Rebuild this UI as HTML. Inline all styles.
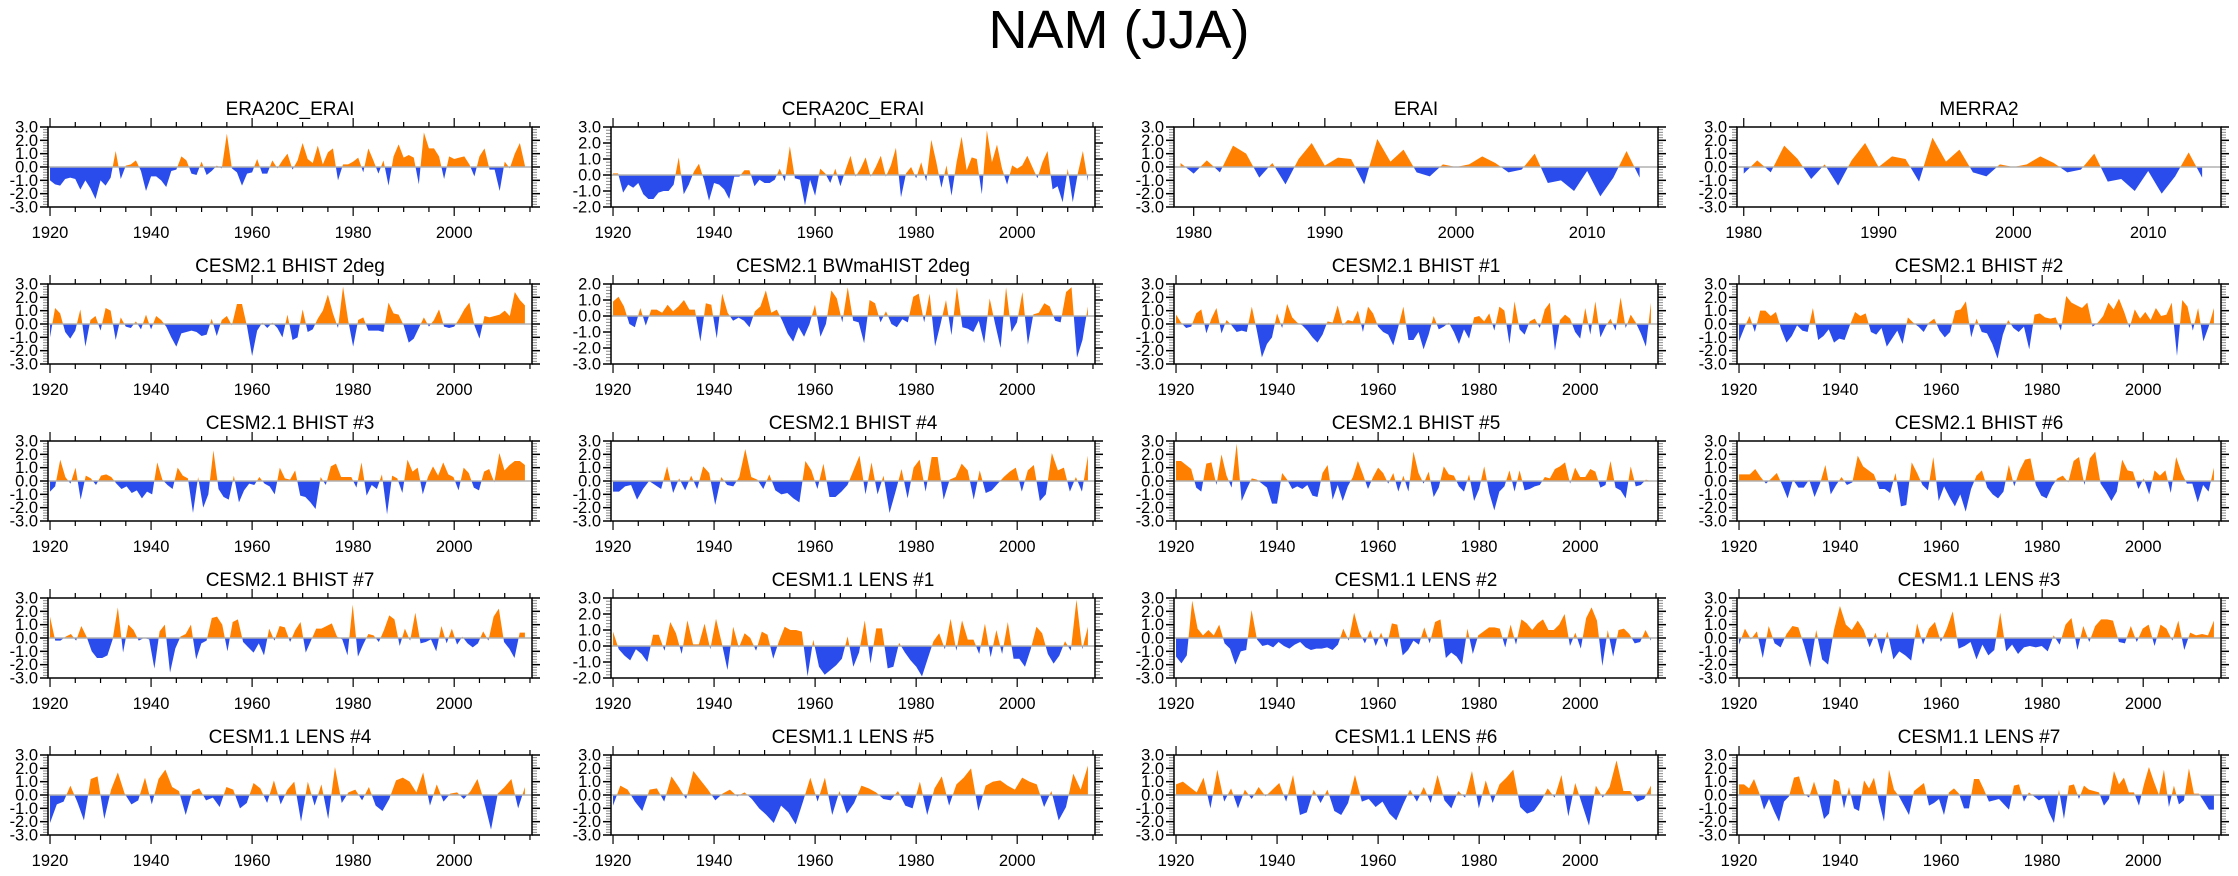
<!DOCTYPE html>
<html><head><meta charset="utf-8"><style>
body{margin:0;background:#fff;}
svg{display:block;font-family:"Liberation Sans",Arial,sans-serif;}
</style></head><body>
<svg id="chart" width="2238" height="876" viewBox="0 0 2238 876">
<text x="1119" y="48" font-size="54" text-anchor="middle">NAM (JJA)</text>
</svg>
<script>
const titles = ["ERA20C_ERAI","CERA20C_ERAI","ERAI","MERRA2",
"CESM2.1 BHIST 2deg","CESM2.1 BWmaHIST 2deg","CESM2.1 BHIST #1","CESM2.1 BHIST #2",
"CESM2.1 BHIST #3","CESM2.1 BHIST #4","CESM2.1 BHIST #5","CESM2.1 BHIST #6",
"CESM2.1 BHIST #7","CESM1.1 LENS #1","CESM1.1 LENS #2","CESM1.1 LENS #3",
"CESM1.1 LENS #4","CESM1.1 LENS #5","CESM1.1 LENS #6","CESM1.1 LENS #7"];
const startYears = [1920,1920,1979,1980,1920,1920,1920,1920,1920,1920,1920,1920,1920,1920,1920,1920,1920,1920,1920,1920];
const yMins = [-3,-2,-3,-3,-3,-3,-3,-3,-3,-3,-3,-3,-3,-2,-3,-3,-3,-3,-3,-3];
const yMaxs = [3,3,3,3,3,2,3,3,3,3,3,3,3,3,3,3,3,3,3,3];
const era20c = [-1.0,-1.3,-1.4,-0.9,-0.8,-0.9,-1.7,-1.0,-1.6,-2.4,-1.0,-1.4,-0.8,1.2,-0.9,0.1,0.2,0.5,-0.3,-1.8,-0.7,-0.7,-1.0,-1.5,-0.3,-0.2,0.8,0.5,-0.5,-0.6,0.4,-0.6,-0.3,0.1,-0.1,2.5,-0.1,-0.4,-1.4,-0.5,-0.4,0.6,-0.5,-0.5,0.5,-0.1,0.5,1.0,-0.2,0.5,1.8,0.6,0.3,1.6,0.2,1.1,1.4,-1.0,0.2,0.2,0.4,0.7,-0.4,1.4,0.5,-0.5,0.5,-1.4,0.8,1.7,0.7,0.9,0.7,-1.3,2.6,1.4,1.4,0.8,-0.9,0.8,0.6,0.7,0.8,0.2,-0.7,0.8,1.4,-0.2,-0.2,-1.8,0.4,-0.1,1.0,1.8,0.1];
const cera20c = [0.1,0.1,-1.1,-0.6,-0.8,-0.5,-1.2,-1.5,-1.5,-1.1,-1.0,-1.0,-0.6,1.1,-1.2,-0.6,0.2,0.7,-0.3,-1.6,-0.5,-0.6,-0.9,-1.5,-0.1,-0.1,0.3,0.3,-0.7,-0.3,-0.5,-0.5,-0.3,0.4,-0.4,1.8,-0.2,-0.3,-1.9,-0.3,-1.3,0.4,0.1,-0.5,0.4,-0.7,0.3,1.2,-0.1,0.4,1.1,-0.1,0.5,1.2,-0.1,0.6,1.7,-1.4,0.1,0.5,-0.2,0.8,-0.4,2.2,0.8,-0.8,0.6,-1.3,0.8,2.4,0.3,1.1,1.0,-1.2,2.8,0.8,1.9,0.4,-0.6,0.6,0.4,0.6,1.2,0.5,-0.2,0.8,1.5,-0.9,-0.7,-1.7,0.4,-1.7,0.1,1.5,-0.4];
const erai = [0.3,-0.5,0.5,-0.4,1.6,1.0,-0.8,0.3,-1.3,0.6,1.8,0.1,0.7,0.6,-1.3,2.1,0.4,1.3,-0.4,-0.7,0.2,0.0,0.2,0.8,0.3,-0.4,-0.2,1.0,-1.2,-1.0,-1.8,-0.3,-2.2,-0.8,1.2,-0.8];
const merra2 = [-0.5,0.5,-0.4,1.6,0.6,-0.9,0.2,-1.4,0.5,1.8,0.0,0.8,0.6,-1.1,2.2,0.4,1.3,-0.4,-0.7,0.2,0.0,0.2,0.8,0.3,-0.4,-0.2,1.0,-1.1,-0.9,-1.8,-0.3,-2.0,-0.7,1.1,-0.8];
const bhist2deg = [-1.0,1.2,0.8,-0.6,-1.1,-0.5,1.1,-1.7,0.3,0.6,-0.5,1.2,1.0,-1.2,0.5,-0.2,-0.3,0.2,-0.4,0.7,-0.4,0.6,0.3,-0.2,-1.0,-1.7,-0.7,-0.6,-0.5,-0.6,-0.9,-0.8,0.4,-0.9,0.3,0.6,-0.1,1.5,1.5,-0.2,-2.4,-0.5,0.1,-0.3,0.1,-0.3,-1.0,0.7,-1.2,-1.0,1.1,-0.6,-0.4,0.4,1.0,2.2,0.8,-0.3,2.8,0.3,-1.7,0.3,0.5,-0.5,-0.5,-0.5,-0.6,1.6,0.8,0.7,-0.1,-1.4,-1.1,-0.3,0.5,-0.2,0.3,1.1,-0.2,-0.3,-0.2,0.4,1.1,1.6,-0.1,-1.1,0.6,0.5,0.6,0.7,1.0,0.6,2.4,1.8,1.4];
const bwmahist = [0.9,1.2,0.6,-0.5,-0.7,0.5,-0.6,0.4,0.4,0.2,0.7,0.3,0.6,1.0,0.4,0.4,-1.6,0.8,0.7,-1.4,1.4,0.2,-0.3,-0.1,-0.3,-0.7,0.3,0.6,1.6,0.2,0.4,-0.3,-1.1,-1.6,-0.7,-1.3,-0.5,0.7,-1.3,-0.5,1.6,1.1,-0.4,1.8,-0.3,-0.4,-1.7,1.0,0.8,-0.4,0.3,-0.5,-0.7,-0.2,-0.4,1.2,1.4,-0.4,1.4,-1.9,-0.5,1.0,-1.2,1.8,-0.7,-0.8,-1.0,-0.3,-1.7,1.1,-0.5,-2.0,1.8,-1.0,-0.4,1.5,-1.8,0.1,0.2,0.8,0.6,-0.3,-0.4,1.5,1.8,-2.6,-1.5,0.6];
const bhist1 = [0.7,0.1,-0.3,-0.2,0.8,1.1,-0.7,0.4,1.2,-0.7,0.3,-0.1,-0.6,-0.5,-0.6,1.3,-0.5,-2.5,-1.5,-1.0,0.8,-0.3,1.5,0.5,0.1,-0.1,-0.5,-1.0,-1.4,-0.8,0.2,0.1,1.4,-0.1,0.3,0.2,1.0,-0.6,1.3,0.8,-0.2,-0.6,-0.8,-1.6,-0.2,1.3,-1.2,-1.2,-0.6,-1.9,-0.8,0.6,-0.4,-0.2,0.1,-0.6,-1.5,-0.4,-1.1,0.5,0.6,0.2,0.8,-0.5,1.3,1.0,-1.5,1.7,-0.4,-0.8,0.2,0.4,-0.3,1.1,1.6,-2.0,0.3,0.7,0.4,-0.6,-1.1,1.2,-0.8,1.7,-1.0,-0.2,0.4,-0.5,2.0,-0.3,0.7,0.1,-0.7,-1.7,1.6];
const bhist2 = [-1.3,-0.3,0.6,-0.6,1.0,1.0,0.6,0.9,-0.4,-1.4,-0.9,-0.1,-0.5,-0.6,1.2,-1.2,-0.9,-0.4,-1.4,-1.1,-1.2,-0.1,0.9,0.6,0.8,-0.6,-0.8,-0.3,-1.7,-1.1,-0.5,-1.5,0.5,0.1,-0.2,-0.6,0.1,0.4,-0.5,-1.0,-0.6,1.0,1.1,1.7,-1.0,0.4,-0.6,-0.7,-1.5,-2.6,-0.8,0.3,-0.3,-0.6,-0.2,-1.9,0.7,0.8,0.5,0.4,0.5,-0.5,2.1,1.6,1.4,1.2,1.6,-0.2,0.1,0.6,1.6,1.1,1.9,0.9,-0.3,1.1,0.4,0.9,0.3,1.2,0.6,0.7,1.6,-2.4,1.8,1.3,-0.5,1.2,-1.3,-0.2,1.2];
const bhist3 = [-0.8,-0.4,1.6,0.3,-0.2,1.0,-1.4,0.4,0.2,-0.3,0.4,0.5,0.3,-0.2,-0.6,-0.4,-0.9,-0.7,-1.3,-0.8,-1.0,1.4,0.1,-0.3,-0.6,1.0,0.4,0.2,-2.4,0.3,-2.0,-1.0,2.3,-0.6,-1.2,-1.4,0.4,-1.6,-0.7,-0.2,-0.3,0.3,-0.2,-0.4,-1.0,1.0,0.2,0.1,0.8,-1.1,-1.2,-1.6,-2.1,0.3,-0.3,1.1,1.3,0.3,0.3,0.3,-0.5,1.4,-1.1,-0.3,-0.6,0.5,-2.5,0.4,0.2,-0.9,1.6,0.7,1.0,-1.0,0.3,1.1,0.4,1.4,0.5,0.3,-0.7,1.0,0.6,-0.5,-0.7,0.7,0.9,-0.1,2.1,0.8,1.2,1.5,1.5,1.2];
const bhist4 = [-0.8,-0.8,-0.4,-0.3,-1.4,-0.6,0.0,-0.3,-0.6,1.1,-0.9,0.2,-0.7,0.4,-0.6,1.1,0.6,-1.8,0.3,-0.3,-0.4,0.3,2.4,0.3,0.1,-0.6,0.5,-0.7,-1.0,-0.9,-1.3,-1.6,1.5,0.8,-0.6,1.3,-1.2,-1.2,-0.8,-0.3,0.8,1.9,-1.0,1.4,-1.0,0.4,-2.4,-0.8,0.9,-1.3,1.0,1.6,-0.8,1.8,1.8,-1.4,0.1,0.3,1.3,0.8,-1.4,0.8,-0.9,-0.7,-0.2,0.3,0.7,1.0,-0.8,0.8,1.2,-1.5,-1.0,2.1,0.8,1.0,-0.8,0.3,-0.8,1.9];
const bhist5 = [1.5,1.5,1.2,0.9,-0.5,-0.8,1.3,1.4,-0.3,2.0,0.4,-0.5,2.8,-1.5,-0.6,0.2,0.1,-0.2,-0.5,-1.7,-1.7,0.6,0.1,-0.6,-0.4,-0.6,-0.3,-1.1,-1.2,0.6,1.2,-1.4,-0.3,-1.5,-0.4,0.3,1.5,0.5,-0.6,0.3,1.0,0.6,-0.2,0.6,-0.8,0.4,-0.8,2.2,0.6,-0.2,0.7,-1.2,-0.5,1.1,0.5,0.4,-0.4,-0.8,0.5,-1.5,-0.6,1.1,-0.9,-2.2,-0.8,-0.4,0.8,-0.8,0.8,-0.7,-0.6,-0.4,-0.3,0.3,0.2,0.9,1.1,1.4,-0.2,1.0,0.3,0.3,0.9,0.7,-0.5,-0.3,1.5,-0.5,-0.7,-1.3,1.1,-0.4,-0.3,0.1,0.0];
const bhist6 = [0.5,0.5,0.5,0.9,0.3,-0.2,0.2,0.6,-0.3,-1.3,0.1,-0.5,-0.5,0.1,-1.2,-0.2,1.2,-1.0,-0.3,0.3,-0.3,-0.1,1.9,1.1,0.8,0.5,-0.6,-0.6,-0.9,0.6,-1.9,-1.8,1.4,0.6,-0.3,-0.7,1.8,-1.5,-0.4,-1.2,-1.9,-1.0,-2.3,-0.6,0.4,0.8,-0.5,-1.0,-1.3,-0.8,1.2,-0.4,0.8,1.6,1.7,-0.3,-1.1,-1.3,-0.4,0.2,0.4,-0.1,1.5,1.8,-0.3,1.7,2.2,-0.2,-0.8,-1.5,-0.8,1.6,0.8,0.7,-0.6,0.2,-1.0,0.8,0.4,0.8,-0.9,1.8,0.6,-0.2,-0.2,-1.6,-0.3,-0.8,1.0];
const bhist7 = [1.6,-0.2,-0.2,0.1,0.3,-0.2,0.9,0.1,-1.0,-1.5,-1.5,-1.3,-0.1,2.3,-1.1,1.0,0.6,-0.2,0.0,-0.1,-2.3,0.5,1.0,-2.6,-0.8,0.1,0.3,1.0,-1.6,-0.4,-0.2,1.5,1.6,1.0,-1.0,1.2,1.4,-0.3,-0.7,-1.1,-0.4,-1.3,0.7,-0.2,0.9,0.8,-0.3,0.6,1.2,-1.1,-0.2,0.7,0.7,0.9,1.1,0.1,-0.1,-1.3,2.5,-1.4,-0.5,0.3,0.2,-0.3,0.6,1.7,1.4,-0.6,0.7,-0.2,1.9,-0.4,-0.3,-0.1,-1.0,0.9,-0.4,0.7,-0.5,0.1,-0.4,-0.7,-0.4,0.5,-0.2,1.6,2.2,-0.3,-0.8,-1.5,0.4,0.4];
const lens1 = [0.9,-0.2,-0.6,-0.9,-0.2,-0.5,-1.0,0.7,0.7,-0.3,1.5,0.8,-0.5,1.6,0.1,0.1,1.4,-0.2,1.7,0.2,-1.5,1.2,-0.1,0.8,0.5,-0.3,0.9,0.7,-0.8,0.3,1.2,1.0,1.0,0.9,-1.9,0.4,-1.3,-1.8,-1.5,-1.2,-0.8,0.6,-1.3,-0.4,1.6,-1.1,1.1,1.1,-1.4,-1.3,0.2,-0.4,-0.9,-1.3,-1.9,-0.8,0.3,0.8,-0.2,1.7,-0.3,1.6,0.4,0.4,-0.5,1.4,-0.7,1.0,-0.5,1.5,-0.8,-0.8,-1.3,-0.2,1.2,0.8,-0.5,-1.1,-0.6,0.3,-0.3,2.9,-0.2,1.2];
const lens2 = [-1.4,-1.9,-1.3,2.8,0.7,0.2,0.6,0.2,1.0,-0.4,-0.8,-2.0,-1.0,-0.9,2.1,-0.1,-0.6,-0.5,-0.7,-0.3,-0.6,-0.8,-0.5,-0.3,-0.7,-0.9,-0.8,-0.8,-0.7,-0.9,-0.5,0.7,-0.2,1.9,0.4,-0.4,0.6,-0.6,0.4,-0.7,1.1,1.0,-1.3,-0.9,-0.2,-0.5,0.8,-0.4,1.2,1.4,-1.5,-1.1,-1.4,-2.0,0.7,-1.2,0.2,0.5,0.8,0.8,0.7,-0.7,1.0,-0.5,1.4,1.1,0.6,1.1,1.4,0.6,0.6,1.0,1.8,-0.6,0.4,-0.8,1.5,2.3,1.3,-2.1,0.6,-1.4,0.6,0.7,0.3,-0.4,-0.3,0.6,-0.2];
const lens3 = [-0.5,0.7,-0.1,0.5,-1.5,0.9,-0.4,-0.7,0.3,0.9,0.8,-0.6,-2.2,0.6,-1.6,-2.0,0.6,2.4,1.0,0.6,1.3,0.6,-0.7,0.4,-1.2,0.5,-1.6,-1.0,-1.3,-1.7,1.1,-0.5,0.7,1.2,-0.3,0.7,2.0,-0.8,-0.6,-0.3,-1.6,-0.5,-1.3,-0.9,1.9,-1.0,-0.5,-1.2,-0.7,-0.6,-0.7,-0.6,-1.0,0.2,-0.5,1.0,1.5,-0.9,0.9,-0.3,0.9,1.4,1.4,1.3,-0.3,-0.4,0.9,-0.3,0.7,1.0,-0.6,1.0,0.7,-0.2,1.3,-0.9,0.4,0.2,0.3,0.2,1.3];
const lens4 = [-2.1,-0.7,-0.5,0.7,-0.5,-1.9,1.2,1.4,-1.8,0.4,1.7,0.1,-0.7,-0.4,1.3,-0.7,1.2,1.9,0.6,0.3,-1.5,0.3,0.5,-0.4,-0.2,-0.9,0.6,0.4,-1.0,-0.6,0.9,0.5,-0.6,1.1,-0.7,0.4,1.0,-2.0,1.0,-0.8,0.8,-1.8,2.1,-0.6,0.2,0.4,-0.4,0.6,-0.8,-1.2,-0.3,1.1,1.3,1.0,0.2,1.7,-0.8,0.8,-0.5,0.1,0.2,-0.3,0.3,1.2,-0.5,-2.6,0.1,0.6,1.2,-1.0,0.6];
const lens5 = [-0.8,0.7,0.4,-0.5,-1.2,0.4,0.5,-0.5,1.4,0.6,-0.3,1.8,1.1,0.4,-0.4,0.1,0.4,-0.1,0.2,-0.3,-1.0,-1.5,-2.1,-0.8,-1.3,-2.2,-0.5,1.3,-0.5,1.3,-1.5,0.3,-1.4,-0.6,0.7,0.5,0.2,-0.3,-0.4,0.3,-0.8,-1.0,1.0,-1.5,0.5,1.4,-0.8,0.8,1.3,2.0,-1.2,0.7,1.0,1.1,0.7,0.4,1.3,1.0,0.8,-0.9,0.3,-1.9,-0.9,1.6,0.4,2.2];
const lens6 = [0.8,1.0,0.6,0.2,1.3,-1.0,1.9,-0.5,0.5,-1.0,0.4,-0.3,0.6,-0.1,0.4,0.9,-0.5,1.5,-1.5,-1.3,0.4,-0.6,0.4,-1.2,-1.5,-0.6,1.5,-0.5,-0.3,-0.9,-0.5,-1.4,-1.9,-0.7,0.4,-0.5,0.6,-0.6,1.5,-0.4,-1.0,0.3,-0.2,1.8,-1.0,1.1,-0.6,0.8,1.3,1.9,-0.9,-1.4,-1.2,-0.5,0.5,-0.2,1.5,-1.6,0.9,-0.7,-2.3,0.7,-0.2,0.6,2.6,0.3,0.3,-0.5,-0.3,0.7];
const lens7 = [0.8,0.8,0.5,1.2,0.2,-1.1,-0.3,-1.2,-2.0,-0.5,-0.1,1.3,1.4,0.1,-0.2,1.0,-0.2,-1.8,-1.4,1.2,1.0,-1.0,0.6,-1.0,-1.2,1.1,0.5,1.3,-0.5,-2.0,1.9,0.4,-0.1,-0.8,-1.5,0.3,0.6,0.9,-0.8,-0.6,-0.3,-1.5,0.2,0.5,0.1,-1.0,-1.0,1.2,1.2,0.4,-0.5,-0.4,-0.3,-0.7,-1.1,0.7,0.8,-0.5,0.2,-0.1,-0.4,-0.2,-1.3,-2.1,0.4,-1.8,0.7,0.8,-0.3,0.7,0.4,0.3,0.2,-0.8,-0.3,1.8,0.8,1.3,0.2,0.2,-0.8,0.8,2.1,1.0,0.0,1.9,-0.9,0.7,-0.7,-0.4,2.0,0.1,0.1,-0.5,-1.1,-1.1];
const seriesList = [era20c,cera20c,erai,merra2,bhist2deg,bwmahist,bhist1,bhist2,bhist3,bhist4,bhist5,bhist6,bhist7,lens1,lens2,lens3,lens4,lens5,lens6,lens7];
const endYear = 2014;

const NS = "http://www.w3.org/2000/svg";
const svg = document.getElementById('chart');
const colLeft = [48,611,1174,1737], rowTop = [127,284,441,598,755];
const PW = 484, PH = 80;
function mk(tag, attrs, parent){const e=document.createElementNS(NS,tag);for(const k in attrs)e.setAttribute(k,attrs[k]);(parent||svg).appendChild(e);return e;}
const defs = mk('defs',{});

seriesList.forEach((vals, p) => {
  const L = colLeft[p%4], T = rowTop[Math.floor(p/4)];
  const y0 = startYears[p], xmin = y0 - (y0===1920?0.4:0.5), xmax = 2015.4;
  const ymin = yMins[p], ymax = yMaxs[p];
  const xs = yr => L + (yr - xmin)/(xmax - xmin)*PW;
  const ys = v => T + (ymax - v)/(ymax - ymin)*PH;
  const step = (endYear - y0)/(vals.length - 1);
  const g = mk('g',{});
  
  
  const t = mk('text',{x:L+PW/2, y:T-12, 'font-size':19, 'text-anchor':'middle'}, g);
  t.textContent = titles[p];
  
  
  const zy = ys(0);
  const cA = mk('clipPath',{id:'ca'+p}, defs); mk('rect',{x:L,y:T,width:PW,height:zy-T},cA);
  const cB = mk('clipPath',{id:'cb'+p}, defs); mk('rect',{x:L,y:zy,width:PW,height:T+PH-zy},cB);
  let d = `M${xs(y0)},${zy}`;
  vals.forEach((v,i)=>{ d += ` L${xs(y0+i*step).toFixed(2)},${ys(v).toFixed(2)}`; });
  d += ` L${xs(y0+(vals.length-1)*step)},${zy} Z`;
  const pa = mk('path',{d, fill:'#ff8000', 'clip-path':`url(#ca${p})`}, g);
  
  
  const pb = mk('path',{d, fill:'#2b4cec', 'clip-path':`url(#cb${p})`}, g);
  
  
  const zl = mk('line',{x1:L,x2:L+PW,y1:zy,y2:zy,stroke:'#b0b0b0','stroke-width':1.5}, g);
  
  
  for (let k = Math.round(ymin*5); k <= Math.round(ymax*5); k++) {
    const v = k/5, yy = ys(v), major = (k%5===0);
    const len = major?8:5, col = major?'#000':'#888';
    mk('line',{x1:L-len,x2:L,y1:yy,y2:yy,stroke:col,'stroke-width':major?1.5:1},g);
    mk('line',{x1:L+PW,x2:L+PW+len,y1:yy,y2:yy,stroke:col,'stroke-width':major?1.5:1},g);
    if (major) {
      const lb = mk('text',{x:L-10,y:yy+5.5,'font-size':16.5,'text-anchor':'end'},g);
      lb.textContent = v.toFixed(1);
      
      
    }
  }
  const majorStep = y0===1920?20:10, minorStep = y0===1920?5:2;
  for (let yr = 1920; yr <= 2015; yr += minorStep) {
    if (yr < xmin || yr > xmax) continue;
    const xx = xs(yr), major = (yr % majorStep === 0);
    const len = major?9:5;
    mk('line',{x1:xx,x2:xx,y1:T-len,y2:T,stroke:'#000','stroke-width':1.2},g);
    mk('line',{x1:xx,x2:xx,y1:T+PH,y2:T+PH+len,stroke:'#000','stroke-width':1.2},g);
    if (major && yr <= 2010) {
      const lb = mk('text',{x:xx,y:T+PH+31,'font-size':16.5,'text-anchor':'middle'},g);
      lb.textContent = yr;
      
      
    }
  }
  const fr = mk('rect',{x:L,y:T,width:PW,height:PH,fill:'none',stroke:'#000','stroke-width':1.5},g);
  
  
});
</script>
</body></html>
